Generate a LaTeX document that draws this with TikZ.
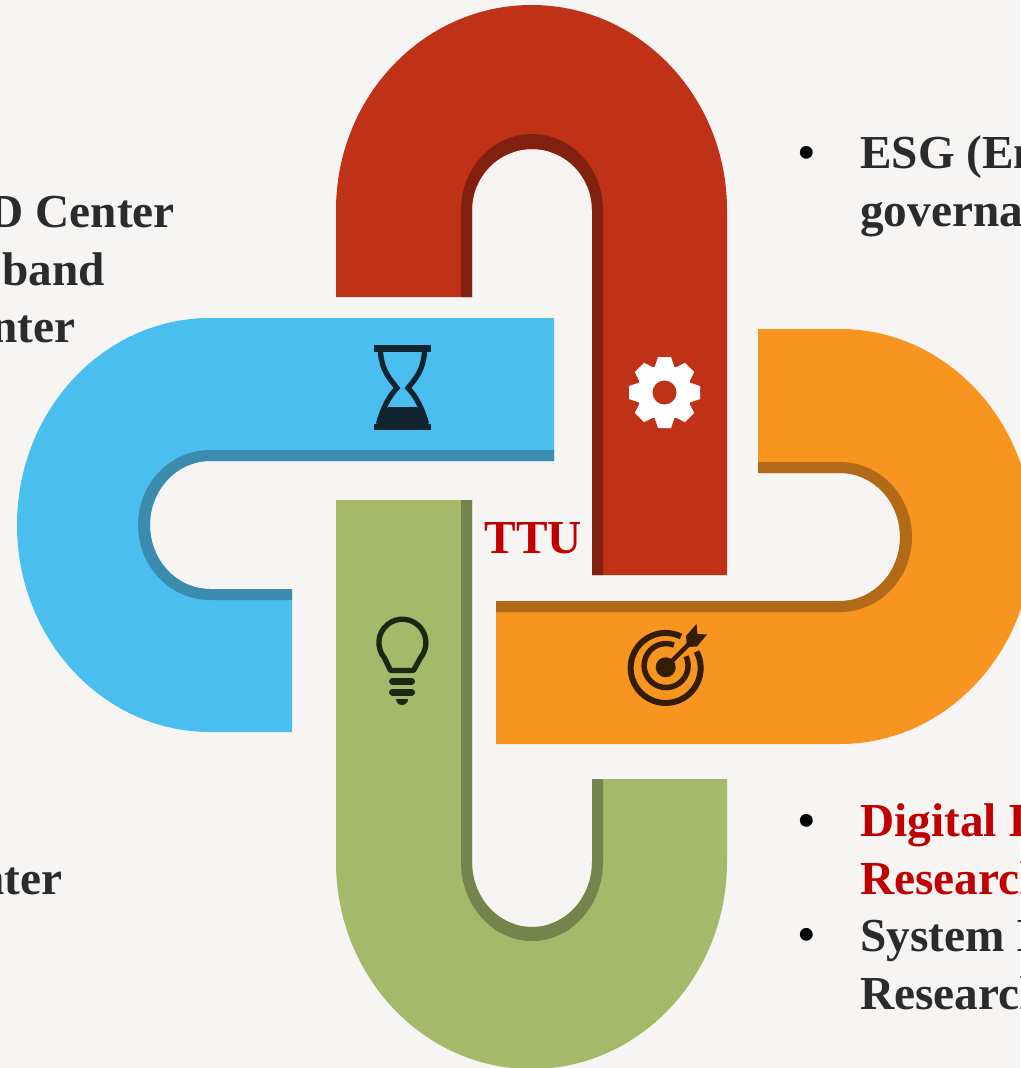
\documentclass[tikz,border=0pt]{standalone}
\usepackage{fontspec}
\setmainfont{Liberation Serif}
\definecolor{bgc}{HTML}{F6F5F3}
\definecolor{redm}{HTML}{C03218}
\definecolor{redd}{HTML}{82200F}
\definecolor{blum}{HTML}{4BBEF0}
\definecolor{blud}{HTML}{3A8BAE}
\definecolor{orgm}{HTML}{F89420}
\definecolor{orgd}{HTML}{B06A18}
\definecolor{grnm}{HTML}{A4B96A}
\definecolor{grnd}{HTML}{74844C}
\definecolor{txtc}{HTML}{2B2B2B}
\definecolor{txtr}{HTML}{C00000}
\definecolor{icob}{HTML}{10252F}
\definecolor{icog}{HTML}{1F2714}
\definecolor{icoo}{HTML}{331D05}
\tikzset{
  lab/.style={font=\bfseries\fontsize{47.3}{50}\selectfont,inner sep=0pt,text=txtc},
  labl/.style={lab,anchor=base west},
  labr/.style={lab,anchor=base east},
  bul/.style={lab,anchor=base,text=black},
}
\begin{document}
\begin{tikzpicture}[x=1pt,y=-1pt]
\useasboundingbox (0,0) rectangle (1020,1068);
\fill[bgc] (0,0) rectangle (1020,1068);
% red loop
\fill[redm] (336,297) -- (336,210) arc[start angle=180,end angle=0,x radius=195.5pt,y radius=205pt]
  -- (727,575) -- (592,575) -- (592,210) arc[start angle=0,end angle=180,x radius=60pt,y radius=61pt] -- (472,297) -- cycle;
\fill[redd] (461,297) -- (461,210) arc[start angle=180,end angle=0,x radius=71pt,y radius=76pt]
  -- (603,575) -- (592,575) -- (592,210) arc[start angle=0,end angle=180,x radius=60pt,y radius=61pt] -- (472,297) -- cycle;
% blue loop
\fill[blum] (554,318) -- (210,318) arc[start angle=90,end angle=270,x radius=193pt,y radius=207pt]
  -- (292,732) -- (292,589) -- (210,589) arc[start angle=270,end angle=90,x radius=60pt,y radius=64pt] -- (554,461) -- cycle;
\fill[blud] (554,450) -- (210,450) arc[start angle=90,end angle=270,x radius=72pt,y radius=75pt]
  -- (292,600) -- (292,589) -- (210,589) arc[start angle=270,end angle=90,x radius=60pt,y radius=64pt] -- (554,461) -- cycle;
% orange loop
\fill[orgm] (758,329) -- (840,329) arc[start angle=90,end angle=-90,x radius=193pt,y radius=207.5pt]
  -- (496,744) -- (496,601) -- (840,601) arc[start angle=-90,end angle=90,x radius=60pt,y radius=64pt] -- (758,473) -- cycle;
\fill[orgd] (758,462) -- (840,462) arc[start angle=90,end angle=-90,x radius=72pt,y radius=75pt]
  -- (496,612) -- (496,601) -- (840,601) arc[start angle=-90,end angle=90,x radius=60pt,y radius=64pt] -- (758,473) -- cycle;
% green loop
\fill[grnm] (336,500) -- (336,862) arc[start angle=180,end angle=360,x radius=195.5pt,y radius=207pt]
  -- (727,779) -- (592,779) -- (592,862) arc[start angle=360,end angle=180,x radius=60pt,y radius=65pt] -- (472,500) -- cycle;
\fill[grnd] (461,500) -- (461,862) arc[start angle=180,end angle=360,x radius=71pt,y radius=79pt]
  -- (603,779) -- (592,779) -- (592,862) arc[start angle=360,end angle=180,x radius=60pt,y radius=65pt] -- (472,500) -- cycle;
% hourglass
\fill[icob] (374,345) rectangle (431,352);
\fill[icob] (374,424) rectangle (431,430);
\draw[icob,line width=5.3pt] (380.5,352) .. controls (382,372) and (391,380) .. (397,388) .. controls (389,396) and (382,410) .. (378.5,424);
\draw[icob,line width=5.3pt] (424.5,352) .. controls (423,372) and (414,380) .. (408,388) .. controls (416,396) and (423,410) .. (426.5,424);
\fill[icob] (388,407) -- (417,407) .. controls (422,412) and (426,418) .. (428,425) -- (377,425) .. controls (379,418) and (383,412) .. (388,407) -- cycle;
% gear
\fill[white] (664.5,392.5) circle[radius=27.5pt];
\foreach \a in {0,45,...,315}{
  \fill[white,rotate around={\a:(664.5,392.5)}] (653,372) -- (658,357) -- (671,357) -- (676,372) -- cycle;
}
\fill[redm] (664.5,392.5) circle[radius=12pt];
% bulb
\draw[icog,line width=5.3pt,line join=round] (390.5,670.5) -- (384.4,657.8) arc[start angle=220,end angle=-40,radius=23.5pt] -- (413.5,670.5) -- cycle;
\draw[icog,line width=7pt,line cap=round] (392.5,681) -- (411.5,681);
\draw[icog,line width=7pt,line cap=round] (392.5,692) -- (411.5,692);
\fill[icog] (396,699) -- (408,699) arc[start angle=0,end angle=-180,radius=6pt] -- cycle;
% target
\draw[icoo,line width=6pt] (681,636.5) arc[start angle=64,end angle=388,radius=35pt];
\draw[icoo,line width=5.5pt] (674,645) arc[start angle=69,end angle=385,radius=22pt];
\fill[icoo] (665.7,667.3) circle[radius=10pt];
\draw[icoo,line width=4.5pt] (665.7,667.3) -- (690,643);
\fill[icoo] (696.5,624) -- (697.5,634) -- (707,634.5) -- (697,646.5) -- (687,647) -- (686,636) -- cycle;
% labels
\node[labr] (t1) at (175,227.5) {D Center};
\node[labr] (t2) at (105,285) {band};
\node[labr] (t3) at (75.5,342.5) {nter};
\node[labr] (t4) at (62.5,894) {nter};
\node[bul] (b1) at (807,168.5) {•};
\node[labl] (t5) at (860,168.5) {ESG (En};
\node[labl] (t6) at (860,226) {governan};
\node[lab,anchor=base west,text=txtr] (ttu) at (484.5,553.5) {TTU};
\node[bul] (b2) at (807,836) {•};
\node[labl,text=txtr] (t7) at (860,836.5) {Digital I};
\node[labl,text=txtr] (t8) at (860,894) {Research};
\node[bul] (b3) at (807,950) {•};
\node[labl] (t9) at (860,951.5) {System I};
\node[labl] (t10) at (860,1009) {Research};
\end{tikzpicture}
\end{document}
